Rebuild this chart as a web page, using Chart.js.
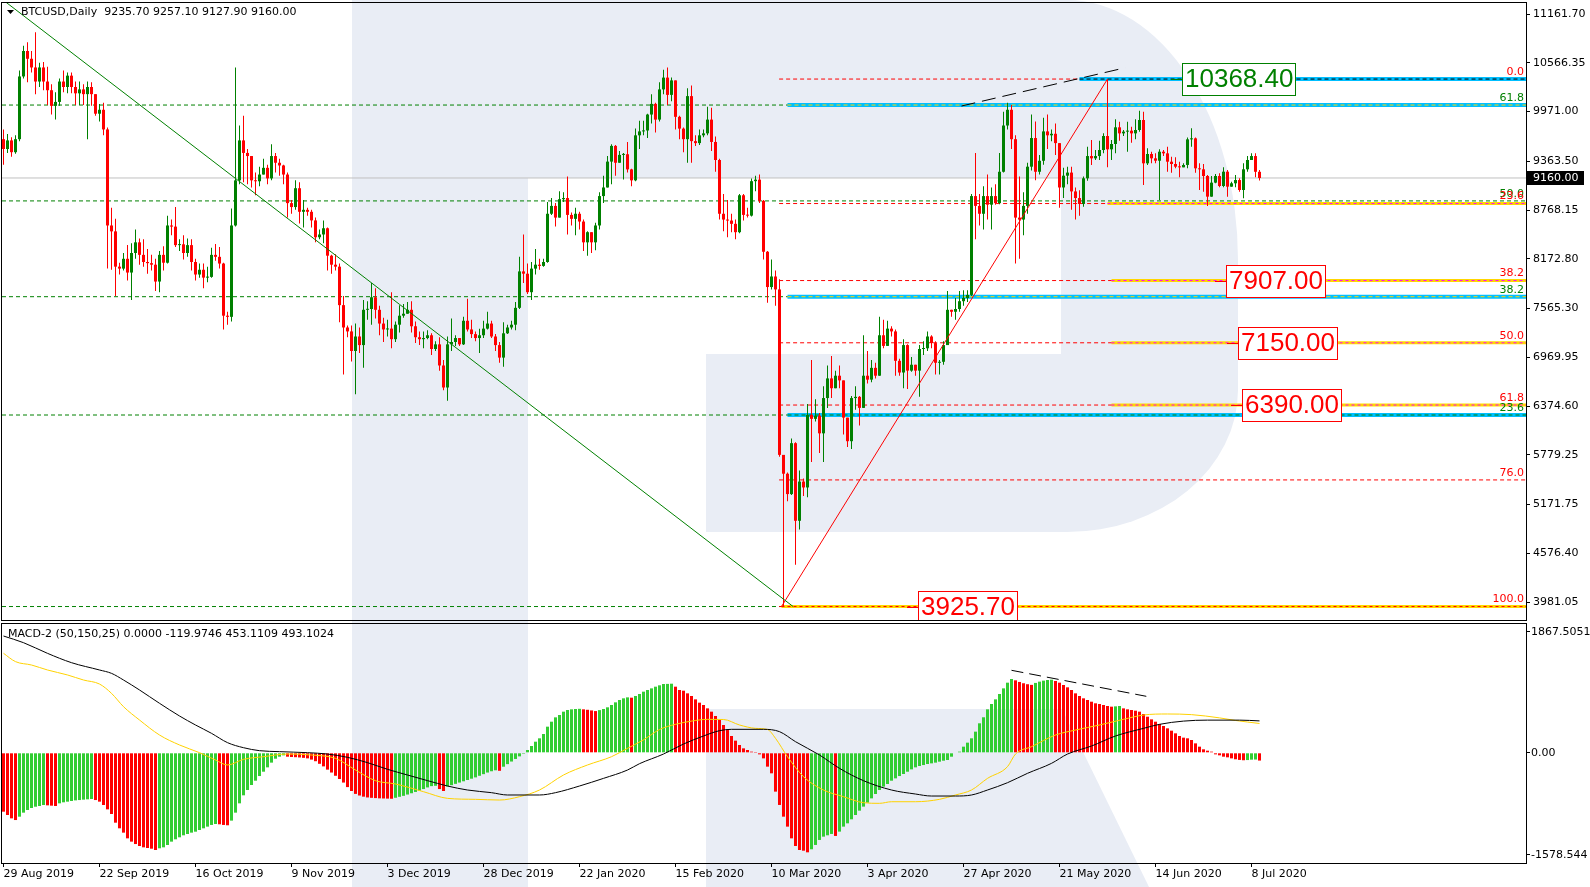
<!DOCTYPE html>
<html>
<head>
<meta charset="utf-8">
<title>BTCUSD Daily</title>
<script src="https://cdn.jsdelivr.net/npm/chart.js@4.4.1/dist/chart.umd.min.js"></script>
<style>
  html, body { margin: 0; padding: 0; background: #fff; }
  #wrap { position: relative; width: 1590px; height: 887px; overflow: hidden; }
  #wrap canvas { position: absolute; left: 0; }
  #price { top: 0; }
  #macd { top: 622px; }
</style>
</head>
<body>
<div id="wrap">
  <canvas id="price" width="1590" height="622"></canvas>
  <canvas id="macd" width="1590" height="265"></canvas>
</div>
<script>
// ---- values ----
const symbol = 'BTCUSD,Daily';
const firstOpen = 9634;

const closes = [
  9514, 9619, 9475, 9634, 10400, 10711, 10616, 10510, 10338, 10510,
  10338, 10232, 10041, 10089, 10338, 10271, 10410, 10271, 10194, 10242,
  10184, 10271, 10184, 9945, 9993, 9753, 8580, 8508, 8077, 8053,
  8173, 8005, 8244, 8374, 8221, 8134, 8120, 8101, 7895, 8221,
  8125, 8580, 8566, 8340, 8350, 8244, 8340, 8134, 7981, 8039,
  7943, 7952, 8221, 8197, 8115, 7478, 7464, 8580, 9131, 9619,
  9466, 9428, 9131, 9120, 9202, 9284, 9155, 9428, 9346, 9313,
  9202, 8853, 8805, 9035, 8747, 8771, 8747, 8642, 8436, 8470,
  8546, 8211, 8101, 8077, 7607, 7334, 7286, 7047, 7224, 7119,
  7550, 7560, 7703, 7550, 7382, 7310, 7320, 7191, 7368, 7478,
  7502, 7550, 7349, 7215, 7191, 7205, 7239, 7071, 7128, 6870,
  6601, 7128, 7157, 7205, 7128, 7416, 7310, 7253, 7205, 7239,
  7320, 7382, 7224, 7119, 6966, 7263, 7334, 7368, 7574, 8019,
  7991, 7765, 8053, 8101, 8086, 8134, 8723, 8819, 8676, 8901,
  8915, 8709, 8661, 8723, 8628, 8374, 8498, 8374, 8580, 8939,
  9044, 9360, 9552, 9346, 9442, 9450, 9265, 9131, 9681, 9729,
  9740, 9935, 10065, 9873, 10242, 10386, 10175, 10352, 9907, 9763,
  9634, 10160, 9610, 9586, 9681, 9705, 9873, 9600, 9380, 8723,
  8652, 8640, 8600, 8498, 8949, 8709, 8700, 9121, 9140, 8881,
  8259, 7828, 7957, 7799, 5778, 5548, 5299, 5921, 4973, 5452,
  5380, 6266, 6218, 6257, 6041, 6472, 6712, 6592, 6745, 6688,
  6233, 5945, 6472, 6487, 6352, 6745, 6697, 6841, 6745, 7239,
  7109, 7320, 7286, 6927, 6784, 7119, 6807, 6879, 6807, 7071,
  7080, 7224, 7143, 6903, 6915, 7119, 7550, 7526, 7560, 7655,
  7694, 7732, 8939, 8819, 8723, 8939, 8834, 8939, 8853, 9236,
  9801, 9993, 9634, 8676, 8652, 8819, 9298, 9648, 9236, 9370,
  9729, 9681, 9700, 9586, 9044, 9188, 9226, 8996, 8915, 8843,
  9156, 9428, 9400, 9428, 9502, 9673, 9510, 9575, 9779, 9705,
  9726, 9738, 9705, 9746, 9868, 9339, 9453, 9400, 9371, 9481,
  9461, 9359, 9331, 9298, 9290, 9319, 9632, 9644, 9278, 9266,
  9184, 8932, 9103, 9184, 9062, 9237, 9054, 9095, 9135, 9013,
  9266, 9380, 9428, 9235.7, 9160.0
];

const highs = [
  9753, 9696, 9658, 9681, 10472, 10774, 10817, 10711, 10941, 10568,
  10577, 10520, 10304, 10208, 10376, 10472, 10448, 10448, 10338, 10338,
  10304, 10338, 10328, 10184, 10065, 10079, 9777, 8795, 8661, 8125,
  8244, 8340, 8364, 8532, 8422, 8412, 8292, 8221, 8173, 8268,
  8326, 8700, 8652, 8805, 8412, 8460, 8422, 8412, 8173, 8115,
  8115, 8077, 8307, 8355, 8316, 8125, 7526, 8786, 10510, 9801,
  9921, 9514, 9428, 9226, 9298, 9394, 9322, 9571, 9466, 9394,
  9322, 9226, 8891, 9131, 9107, 8891, 8795, 8771, 8676, 8532,
  8642, 8556, 8221, 8230, 8115, 7718, 7358, 7358, 7382, 7334,
  7670, 7655, 7876, 7813, 7598, 7454, 7430, 7765, 7406, 7607,
  7622, 7646, 7655, 7406, 7286, 7286, 7301, 7263, 7167, 7215,
  6937, 7224, 7444, 7239, 7205, 7464, 7684, 7430, 7286, 7320,
  7416, 7526, 7416, 7253, 7157, 7397, 7368, 7416, 7646, 8197,
  8470, 8115, 8134, 8292, 8173, 8173, 8867, 8915, 8853, 8997,
  8987, 9179, 8738, 8795, 8747, 8652, 8508, 8498, 8613, 8987,
  9188, 9428, 9571, 9562, 9490, 9466, 9600, 9274, 9763, 9859,
  9859, 9945, 10184, 10079, 10328, 10481, 10510, 10386, 10352, 9921,
  9777, 10256, 10290, 9681, 9753, 9753, 10031, 10017, 9667, 9394,
  8963, 8891, 8723, 8652, 8963, 8963, 8795, 9155, 9188, 9202,
  8891, 8268, 8163, 8029, 7923, 5778, 5562, 5979, 5931, 5586,
  5490, 6400, 6937, 6458, 6290, 6616, 6870, 6985, 6807, 6870,
  6688, 6233, 6496, 6616, 6496, 7239, 7047, 6937, 6903, 7464,
  7430, 7416, 7349, 7310, 6951, 7191, 7128, 6975, 6879, 7119,
  7167, 7286, 7239, 7167, 6937, 7167, 7780, 7550, 7694, 7780,
  7789, 7789, 8963, 9466, 8963, 9059, 9202, 9044, 9083, 9466,
  9969, 10079, 10050, 9681, 9179, 8987, 9346, 9935, 9849, 9442,
  9897, 9935, 9753, 9825, 9586, 9284, 9298, 9298, 9044, 9011,
  9179, 9542, 9624, 9502, 9616, 9705, 10368.4, 9624, 9876, 9848,
  9746, 9848, 9787, 9876, 9982, 9970, 9522, 9481, 9461, 9510,
  9502, 9542, 9420, 9412, 9359, 9339, 9656, 9766, 9656, 9339,
  9331, 9196, 9184, 9209, 9217, 9290, 9257, 9115, 9196, 9156,
  9339, 9428, 9461, 9461, 9257.1
];

const lows = [
  9322, 9466, 9418, 9456, 9610, 10376, 10328, 10448, 10184, 10271,
  10232, 10050, 9935, 9873, 10041, 10208, 10194, 10194, 10050, 10050,
  10050, 9634, 10041, 9921, 9849, 9681, 8053, 8039, 7718, 7981,
  8029, 7909, 7670, 8173, 8101, 8077, 7991, 8029, 7780, 7765,
  8029, 8115, 8460, 8316, 8268, 8163, 8197, 8029, 7909, 7943,
  7813, 7885, 7943, 8149, 8053, 7310, 7368, 7406, 8566, 9083,
  9107, 9083, 9044, 8949, 9059, 9202, 9083, 9131, 9226, 9188,
  9083, 8676, 8723, 8771, 8604, 8556, 8700, 8556, 8374, 8412,
  8364, 8029, 7991, 8029, 7397, 6760, 7215, 6918, 6520, 7023,
  6841, 7430, 7368, 7444, 7239, 7157, 7224, 7081, 7157, 7272,
  7454, 7502, 7272, 7143, 7119, 7081, 7191, 6999, 7047, 6807,
  6568, 6439, 7047, 7109, 7109, 7119, 7286, 7205, 7167, 7023,
  7205, 7310, 7205, 7047, 6903, 6855, 7253, 7310, 7301, 7560,
  7876, 7742, 7670, 7981, 8039, 8077, 8125, 8709, 8566, 8676,
  8867, 8470, 8580, 8460, 8532, 8268, 8211, 8244, 8278, 8532,
  8853, 9044, 9083, 9188, 9346, 9140, 9226, 9059, 9121, 9514,
  9681, 9648, 9825, 9715, 9849, 10184, 10050, 10098, 9753, 9634,
  9475, 9346, 9346, 9552, 9562, 9658, 9681, 9490, 9236, 8652,
  8508, 8436, 8498, 8412, 8484, 8642, 8676, 8690, 8997, 8853,
  8163, 7636, 7799, 7598, 5754, 3925.7, 5212, 5289, 4436, 4868,
  5275, 5260, 5691, 6185, 5802, 5691, 6352, 6472, 6592, 6592,
  6027, 5873, 5849, 6328, 6137, 6352, 6649, 6664, 6712, 6745,
  7081, 7109, 7224, 6745, 6745, 6592, 6582, 6793, 6745, 6487,
  6999, 7047, 7081, 6760, 6760, 6879, 7119, 7464, 7430, 7526,
  7598, 7646, 7718, 8412, 8580, 8532, 8652, 8532, 8834, 8840,
  9226, 9753, 9514, 8115, 8173, 8460, 8723, 9250, 9131, 9202,
  9322, 9514, 9610, 9442, 8795, 8915, 9083, 8771, 8652, 8700,
  8810, 9127, 9319, 9380, 9380, 9461, 9290, 9380, 9461, 9616,
  9673, 9481, 9591, 9632, 9726, 9074, 9319, 9339, 9339, 8891,
  9428, 9237, 9225, 9278, 9168, 9290, 9278, 9542, 9225, 9013,
  8993, 8818, 8932, 9095, 9046, 9046, 8932, 9054, 9046, 8993,
  8911, 9237, 9380, 9168, 9127.9
];

const dateTicks = [0, 24, 48, 72, 96, 120, 144, 168, 192, 216, 240, 264, 288, 312];
const dateLabels = ['29 Aug 2019', '22 Sep 2019', '16 Oct 2019', '9 Nov 2019', '3 Dec 2019',
  '28 Dec 2019', '22 Jan 2020', '15 Feb 2020', '10 Mar 2020', '3 Apr 2020', '27 Apr 2020',
  '21 May 2020', '14 Jun 2020', '8 Jul 2020'];
const priceTicks = [11161.70, 10566.35, 9971.00, 9363.50, 8768.15, 8172.80, 7565.30,
  6969.95, 6374.60, 5779.25, 5171.75, 4576.40, 3981.05];

const macdParams = [50, 150, 25];
const macdHist = [
  -910, -961, -1013, -1039, -987, -925, -884, -853, -833, -822,
  -807, -812, -817, -822, -781, -765, -755, -745, -735, -730,
  -724, -719, -714, -730, -755, -807, -874, -946, -1080, -1167,
  -1234, -1322, -1373, -1410, -1440, -1461, -1471, -1482, -1502, -1476,
  -1461, -1425, -1373, -1337, -1306, -1275, -1255, -1234, -1219, -1193,
  -1167, -1141, -1115, -1100, -1105, -1115, -1120, -1048, -925, -781,
  -657, -575, -498, -431, -359, -292, -225, -152, -91, -60,
  -39, -60, -65, -68, -72, -78, -86, -105, -130, -170,
  -210, -260, -305, -355, -405, -460, -530, -590, -635, -660,
  -678, -690, -696, -700, -704, -706, -708, -710, -695, -680,
  -665, -645, -625, -605, -585, -560, -535, -515, -510, -560,
  -590, -520, -500, -480, -460, -440, -420, -400, -380, -355,
  -330, -305, -285, -270, -278, -215, -175, -135, -95, -55,
  -15, 43, 105, 172, 224, 291, 404, 481, 548, 584,
  636, 662, 672, 677, 680, 672, 665, 655, 645, 660,
  677, 703, 739, 780, 816, 842, 857, 852, 878, 909,
  945, 971, 996, 1022, 1043, 1063, 1065, 1068, 1022, 971,
  960, 919, 878, 826, 775, 739, 687, 636, 569, 507,
  430, 352, 260, 188, 121, 69, 43, 18, 2, -24,
  -86, -214, -317, -600, -806, -987, -1141, -1322, -1440, -1502,
  -1513, -1538, -1491, -1424, -1347, -1296, -1275, -1254, -1285, -1218,
  -1141, -1090, -1028, -961, -894, -832, -771, -704, -637, -575,
  -523, -482, -431, -395, -359, -328, -292, -256, -225, -204,
  -189, -173, -163, -152, -137, -122, -111, -60, -8, 18,
  95, 157, 224, 327, 456, 549, 672, 754, 826, 909,
  996, 1084, 1141, 1120, 1095, 1075, 1060, 1050, 1080, 1100,
  1115, 1125, 1130, 1110, 1084, 1048, 1012, 971, 919, 878,
  842, 816, 790, 765, 754, 739, 723, 713, 718, 723,
  687, 672, 662, 651, 636, 600, 558, 517, 481, 445,
  414, 378, 342, 301, 260, 234, 224, 198, 146, 95,
  54, 33, 18, -24, -39, -60, -70, -86, -100, -110,
  -115, -112, -106, -104, -119.9746
];
// black line, sampled along the bars
const macdMainBars = [0, 5, 11, 17, 24, 27, 30, 34, 39, 44, 48, 52, 56, 60, 64, 69, 76, 81, 86, 91,
  96, 101, 106, 111, 116, 122, 126, 134, 138, 144, 150, 156, 159, 165, 170, 175, 179, 182, 190, 194,
  198, 204, 209, 215, 222, 228, 232, 238, 242, 246, 251, 256, 262, 266, 272, 278, 285, 289, 295, 301,
  309, 314];
const macdMainVals = [1805, 1702, 1537, 1393, 1280, 1228, 1125, 971, 765, 569, 430, 301, 157, 79, 33, 18, 2, -19, -70, -152,
  -255, -343, -430, -513, -575, -616, -652, -652, -616, -513, -395, -266, -168, -19, 136, 260, 342, 363, 363, 327,
  172, -34, -240, -431, -575, -637, -668, -668, -652, -575, -462, -317, -163, -19, 105, 260, 378, 440, 490, 505,
  505, 493.1024];
// yellow line
const macdSignalBars = [0, 3, 7, 11, 16, 20, 24, 27, 30, 34, 39, 44, 49, 53, 56, 60, 65, 71, 77, 83,
  88, 93, 98, 105, 111, 118, 124, 129, 134, 140, 146, 152, 156, 160, 164, 168, 172, 176, 180, 184,
  188, 191, 193, 196, 200, 205, 210, 215, 219, 222, 228, 234, 238, 242, 246, 251, 253, 257, 263, 268,
  274, 280, 285, 291, 297, 304, 308, 314];
const macdSignalVals = [1538, 1409, 1357, 1280, 1203, 1125, 1063, 919, 713, 507, 275, 121, 2, -111, -188, -101, -60, -19, -34, -86,
  -266, -431, -482, -601, -704, -719, -730, -678, -575, -343, -188, -60, 69, 200, 360, 440, 490, 517, 515, 430,
  378, 360, 224, -60, -369, -575, -678, -771, -781, -756, -756, -719, -652, -575, -395, -214, -19, 95, 275, 352,
  430, 517, 584, 600, 590, 540, 500, 453.1109];
const macdTicks = [1867.5051, 0, -1578.544];
const macdTickLabels = ['1867.5051', '0.00', '-1578.544'];

// fibonacci grids
const redFibLevels = [10368.4, 8847.9, 7907.2, 7147.1, 6386.8, 5472.0, 3925.7];
const redFibLabels = ['0.0', '23.6', '38.2', '50.0', '61.8', '76.0', '100.0'];
const greenFibLevels = [10051, 8880, 7710, 6265, 3925.7];
const greenFibLabels = ['61.8', '50.0', '38.2', '23.6', ''];
const targetPrices = [10368.40, 7907.00, 7150.00, 6390.00, 3925.70];
const currentPrice = 9160.00;

// anchors of the drawn objects, as [bar, price]
const downTrend = [[0, 11330], [197.4, 3925.7]];
const upTrend = [[194.5, 3925.7], [276, 10368.4]];
const topTrend = [[239.5, 10039], [280.4, 10506]];
const macdTrend = [[252, 1275], [285.7, 873]];
const redFibFrom = 193.9;
const cyanFrom = [269, 196, 196, 196];
const goldFrom = [276, 277, 277, 277, 194.5];
const targetBars = [294.6, 305.6, 308.6, 309.6, 228.6];

// ---- layout ----
const X_MIN = -0.375, X_MAX = 380.625;   // 4 px per bar, bar 0 at x=3.5
const AXIS_W = 64;
const MACD_TOP = 622;
const UP = '#008000', DOWN = '#ff0000';

const last = closes.length - 1;
const bars = closes.map((_, i) => i);
const opens = closes.map((c, i) => i ? closes[i - 1] : firstOpen);
const candleColors = bars.map(i => closes[i] >= opens[i] ? UP : DOWN);
const histColors = macdHist.map((v, i) => i && v >= macdHist[i - 1] ? '#32cd32' : '#ff0000');

Chart.defaults.font.family = '"DejaVu Sans", sans-serif';
Chart.defaults.font.size = 11;
Chart.defaults.color = '#000';

function seg(a, b, color, width, dash, order) {
  return {
    type: 'line', data: [{ x: a[0], y: a[1] }, { x: b[0], y: b[1] }],
    borderColor: color, borderWidth: width, borderDash: dash || [],
    pointRadius: 0, fill: false, tension: 0, order
  };
}
function level(v, from, color, width, dash, order) {
  return seg([from, v], [X_MAX, v], color, width, dash, order);
}

// big light "R" behind both panes (page pixels)
function watermark(offsetY) {
  return {
    id: 'watermark',
    beforeDraw(chart) {
      const ctx = chart.ctx;
      ctx.save();
      ctx.translate(0, -offsetY);
      ctx.fillStyle = '#e9edf5';
      ctx.fillRect(352, 0, 176, 887);          // stem
      ctx.fillRect(352, 0, 716, 178);          // top bar
      ctx.fillRect(706, 354, 362, 178);        // middle bar
      // bowl
      ctx.beginPath();
      ctx.moveTo(1061, 0);
      ctx.lineTo(1067, 0);
      ctx.ellipse(1067, 260, 171, 260, 0, -Math.PI / 2, 0);
      ctx.lineTo(1238, 390);
      ctx.ellipse(1067, 390, 171, 142, 0, 0, Math.PI / 2);
      ctx.lineTo(1061, 532);
      ctx.closePath();
      ctx.fill();
      // leg
      ctx.beginPath();
      ctx.moveTo(706, 709); ctx.lineTo(1062, 709); ctx.lineTo(1149, 887); ctx.lineTo(706, 887);
      ctx.closePath();
      ctx.fill();
      ctx.restore();
    }
  };
}

function frame(ctx, a) {
  ctx.strokeStyle = '#000';
  ctx.lineWidth = 1;
  ctx.strokeRect(a.left - 0.5, a.top - 0.5, a.right - a.left + 1, a.bottom - a.top + 1);
}

const priceDecor = {
  id: 'priceDecor',
  afterDraw(chart) {
    const { ctx, chartArea: a, scales: { x, y } } = chart;
    ctx.save();
    frame(ctx, a);

    // level captions on the right
    ctx.font = '11px "DejaVu Sans"';
    ctx.textAlign = 'right';
    ctx.textBaseline = 'middle';
    greenFibLevels.forEach((v, k) => {
      if (!greenFibLabels[k]) return;
      ctx.fillStyle = UP;
      ctx.fillText(greenFibLabels[k], a.right - 2, y.getPixelForValue(v) - 7);
    });
    redFibLevels.forEach((v, k) => {
      ctx.fillStyle = DOWN;
      ctx.fillText(redFibLabels[k], a.right - 2, y.getPixelForValue(v) - 7);
    });

    // price boxes
    ctx.save();
    ctx.beginPath();
    ctx.rect(a.left, a.top, a.right - a.left, a.bottom - a.top);
    ctx.clip();
    ctx.font = '26px "Liberation Sans"';
    ctx.textAlign = 'left';
    targetPrices.forEach((v, k) => {
      const col = k === 0 ? UP : DOWN;
      const txt = v.toFixed(2);
      const bx = Math.round(x.getPixelForValue(targetBars[k]));
      const py = Math.round(y.getPixelForValue(v));
      const w = Math.round(ctx.measureText(txt).width) + 6;
      ctx.strokeStyle = col;
      ctx.beginPath(); ctx.moveTo(bx - 11, py + 0.5); ctx.lineTo(bx, py + 0.5); ctx.stroke();
      ctx.fillStyle = '#fff';
      ctx.fillRect(bx, py - 16, w, 33);
      ctx.strokeRect(bx + 0.5, py - 15.5, w - 1, 32);
      ctx.fillStyle = col;
      ctx.fillText(txt, bx + 3, py + 1);
    });
    ctx.restore();

    // header
    ctx.fillStyle = '#000';
    ctx.beginPath(); ctx.moveTo(7, 10); ctx.lineTo(14, 10); ctx.lineTo(10.5, 14); ctx.closePath(); ctx.fill();
    ctx.font = '11px "DejaVu Sans"';
    ctx.textAlign = 'left';
    ctx.fillText(symbol + '  ' + [opens[last], highs[last], lows[last], closes[last]].map(v => v.toFixed(2)).join(' '), 21, 12);

    // last price on the axis
    const cy = Math.round(y.getPixelForValue(currentPrice));
    ctx.fillRect(a.right + 1, cy - 7, 57, 14);
    ctx.fillStyle = '#fff';
    ctx.fillText(currentPrice.toFixed(2), a.right + 7, cy);
    ctx.restore();
  }
};

const macdDecor = {
  id: 'macdDecor',
  afterDraw(chart) {
    const { ctx, chartArea: a } = chart;
    ctx.save();
    frame(ctx, a);
    ctx.fillStyle = '#000';
    ctx.font = '11px "DejaVu Sans"';
    ctx.textAlign = 'left';
    ctx.textBaseline = 'middle';
    const vals = [0, macdHist[last], macdSignalVals[macdSignalVals.length - 1], macdMainVals[macdMainVals.length - 1]];
    ctx.fillText('MACD-2 (' + macdParams.join(',') + ') ' + vals.map(v => v.toFixed(4)).join(' '), 8, 12);
    ctx.restore();
  }
};

const noPad = s => { s.paddingTop = 0; s.paddingBottom = 0; s.paddingLeft = 0; s.paddingRight = 0; };

// ---- price pane ----
const cyanLevels = [redFibLevels[0], greenFibLevels[0], greenFibLevels[2], greenFibLevels[3]];
const cyanDash = ['#000', '#ffd700', '#ffd700', UP];
const goldLevels = [redFibLevels[1], redFibLevels[2], redFibLevels[3], redFibLevels[4], redFibLevels[6]];

const priceSets = [
  seg(downTrend[0], downTrend[1], UP, 1, null, 0),
  seg(upTrend[0], upTrend[1], DOWN, 1, null, 0),
  seg(topTrend[0], topTrend[1], '#000', 1, [14, 7], 0),
  {
    type: 'bar', stack: 'candle', order: 1,
    data: bars.map(i => ({ x: i, y: [opens[i], closes[i]] })),
    backgroundColor: candleColors, barThickness: 3, minBarLength: 1, inflateAmount: 0
  },
  {
    type: 'bar', stack: 'candle', order: 2,
    data: bars.map(i => ({ x: i, y: [lows[i], highs[i]] })),
    backgroundColor: candleColors, barThickness: 1, inflateAmount: 0
  },
  level(currentPrice, X_MIN, '#c0c0c0', 1, null, 9),
  ...greenFibLevels.map(v => level(v, X_MIN, UP, 1, [4, 3], 8)),
  ...redFibLevels.map(v => level(v, redFibFrom, DOWN, 1, [4, 3], 7)),
  ...cyanLevels.map((v, k) => level(v, cyanFrom[k], '#00bfff', 4, null, 6)),
  ...cyanLevels.map((v, k) => level(v, cyanFrom[k], cyanDash[k], 1, [4, 3], 5)),
  ...goldLevels.map((v, k) => level(v, goldFrom[k], '#ffd700', 3, null, 4)),
  ...goldLevels.map((v, k) => level(v, goldFrom[k], k === 4 ? DOWN : '#ff00ff', 1, [3, 3], 3))
];

new Chart(document.getElementById('price'), {
  type: 'bar',
  data: { datasets: priceSets },
  options: {
    animation: false, responsive: false, devicePixelRatio: 1, events: [],
    layout: { padding: { left: 2, top: 3, right: 0, bottom: 2 } },
    plugins: { legend: { display: false }, tooltip: { enabled: false } },
    scales: {
      x: { type: 'linear', min: X_MIN, max: X_MAX, offset: false, display: false },
      y: {
        type: 'linear', position: 'right', min: 3761.2, max: 11297.3, stacked: false, bounds: 'data',
        afterFit: s => { s.width = AXIS_W; noPad(s); },
        afterBuildTicks: s => { s.ticks = priceTicks.map(v => ({ value: v })); },
        ticks: { autoSkip: false, padding: 3, callback: v => v.toFixed(2) },
        grid: { drawOnChartArea: false, tickLength: 4, color: '#000' },
        border: { color: '#000' }
      }
    }
  },
  plugins: [watermark(0), priceDecor]
});

// ---- MACD pane ----
const macdSets = [
  seg(macdTrend[0], macdTrend[1], '#000', 1, [12, 6], 0),
  {
    type: 'line', order: 1, data: macdMainBars.map((b, k) => ({ x: b, y: macdMainVals[k] })),
    borderColor: '#000', borderWidth: 1, pointRadius: 0, cubicInterpolationMode: 'monotone'
  },
  {
    type: 'line', order: 2, data: macdSignalBars.map((b, k) => ({ x: b, y: macdSignalVals[k] })),
    borderColor: '#ffd200', borderWidth: 1, pointRadius: 0, cubicInterpolationMode: 'monotone'
  },
  {
    type: 'bar', order: 3, data: bars.map(i => ({ x: i, y: macdHist[i] })),
    backgroundColor: histColors, barThickness: 3, inflateAmount: 0
  }
];

new Chart(document.getElementById('macd'), {
  type: 'bar',
  data: { datasets: macdSets },
  options: {
    animation: false, responsive: false, devicePixelRatio: 1, events: [],
    layout: { padding: { left: 2, top: 2, right: 0, bottom: 0 } },
    plugins: { legend: { display: false }, tooltip: { enabled: false } },
    scales: {
      x: {
        type: 'linear', min: X_MIN, max: X_MAX, offset: false,
        afterFit: s => { s.height = 24; noPad(s); },
        afterBuildTicks: s => { s.ticks = dateTicks.map(v => ({ value: v })); },
        ticks: { autoSkip: false, maxRotation: 0, minRotation: 0, align: 'start', padding: 1,
                 callback: (v, k) => dateLabels[k] },
        grid: { drawOnChartArea: false, tickLength: 4, color: '#000', offset: false },
        border: { color: '#000' }
      },
      y: {
        type: 'linear', position: 'right', min: -1703, max: 1990.7, stacked: false, bounds: 'data',
        afterFit: s => { s.width = AXIS_W; noPad(s); },
        afterBuildTicks: s => { s.ticks = macdTicks.map(v => ({ value: v })); },
        ticks: { autoSkip: false, padding: 1, callback: (v, k) => macdTickLabels[k] },
        grid: { drawOnChartArea: false, tickLength: 4, color: '#000' },
        border: { color: '#000' }
      }
    }
  },
  plugins: [watermark(MACD_TOP), macdDecor]
});
</script>
</body>
</html>
